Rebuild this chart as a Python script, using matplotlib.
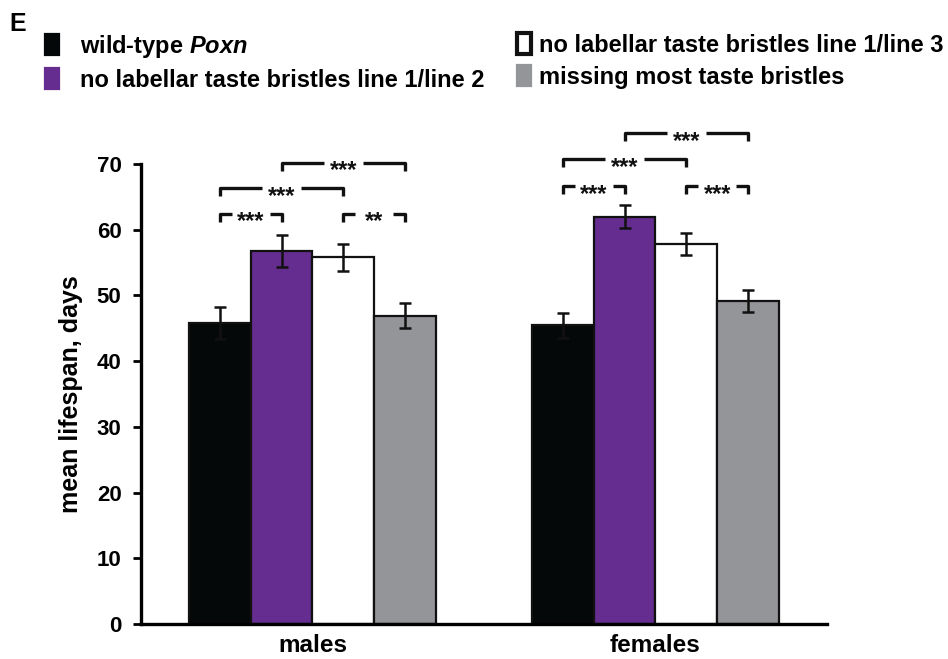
import matplotlib
matplotlib.use('Agg')
import matplotlib.pyplot as plt
import numpy as np

plt.rcParams['font.family'] = ['Liberation Sans', 'DejaVu Sans']
plt.rcParams['font.weight'] = 'bold'
plt.rcParams['mathtext.fontset'] = 'custom'
plt.rcParams['mathtext.it'] = 'Liberation Sans:italic:bold'
plt.rcParams['mathtext.rm'] = 'Liberation Sans:bold'

# data
groups = ['males', 'females']
wild_type = [45.8, 45.5]
line_1_2 = [56.8, 62.0]
line_1_3 = [55.8, 57.8]
missing = [46.9, 49.2]
wild_type_err = [2.4, 1.9]
line_1_2_err = [2.4, 1.8]
line_1_3_err = [2.1, 1.7]
missing_err = [1.9, 1.65]

labels = [r'wild-type $\it{Poxn}$',
          'no labellar taste bristles line 1/line 2',
          'no labellar taste bristles line 1/line 3',
          'missing most taste bristles']
colors = ['#050808', '#652d8f', '#ffffff', '#939598']

# significance brackets: (group, bar a, bar b, height, stars)
brackets = [
    (0, 0, 1, 62.4, '***'), (0, 2, 3, 62.4, '**'),
    (0, 0, 2, 66.3, '***'), (0, 1, 3, 70.2, '***'),
    (1, 0, 1, 66.6, '***'), (1, 2, 3, 66.6, '***'),
    (1, 0, 2, 70.7, '***'), (1, 1, 3, 74.7, '***'),
]

fig = plt.figure(figsize=(9.48, 6.59), dpi=100)
ax = fig.add_axes([0.1487, 0.0531, 0.7236, 0.698])

x = np.arange(len(groups))
w = 0.18
series = [wild_type, line_1_2, line_1_3, missing]
errs = [wild_type_err, line_1_2_err, line_1_3_err, missing_err]
offsets = (np.arange(4) - 1.5) * w

handles = []
for k in range(4):
    b = ax.bar(x + offsets[k], series[k], w, color=colors[k], edgecolor='#111111',
               linewidth=1.6, label=labels[k], zorder=2)
    ax.errorbar(x + offsets[k], series[k], yerr=errs[k], fmt='none', ecolor='#111111',
                elinewidth=1.8, capsize=4, capthick=1.8, zorder=3)
    handles.append(b)

# brackets
gap = 0.056
tick = 1.2
for g, a, b, y, s in brackets:
    xa = x[g] + offsets[a]
    xb = x[g] + offsets[b]
    xm = (xa + xb) / 2
    kw = dict(color='#111111', lw=2.4, clip_on=False, solid_capstyle='butt')
    ax.plot([xa, xa, xm - gap], [y - tick, y, y], **kw)
    ax.plot([xm + gap, xb, xb], [y, y, y - tick], **kw)
    ax.text(xm, y - 2.2, s, ha='center', va='baseline', fontsize=17,
            fontweight='bold', color='#111111', clip_on=False)

ax.set_xlim(-0.5, 1.5)
ax.set_ylim(0, 70)
ax.set_yticks(range(0, 71, 10))
ax.set_xticks(x)
ax.set_xticklabels(groups, fontsize=17.5, fontweight='bold')
ax.tick_params(axis='x', length=0, pad=7)
ax.tick_params(axis='y', length=6, width=2, labelsize=16, pad=8, direction='out')
for t in ax.get_yticklabels():
    t.set_fontweight('bold')
ax.spines['top'].set_visible(False)
ax.spines['right'].set_visible(False)
ax.spines['left'].set_linewidth(2.4)
ax.spines['bottom'].set_linewidth(2.4)
ax.set_ylabel('mean lifespan, days', fontsize=18, fontweight='bold', labelpad=10)

# legend in two columns, built as two legends
leg_kw = dict(loc='upper left', frameon=False, fontsize=17, handlelength=0.6,
              handleheight=1.0, labelspacing=0.35, borderpad=0, borderaxespad=0)
leg1 = fig.legend(handles=handles[:2], labels=labels[:2], bbox_to_anchor=(0.047, 0.95),
                  handletextpad=0.9, **leg_kw)
leg2 = fig.legend(handles=handles[2:], labels=labels[2:], bbox_to_anchor=(0.545, 0.95),
                  handletextpad=0.35, **leg_kw)
for leg, cols in [(leg1, colors[:2]), (leg2, colors[2:])]:
    for h, c in zip(leg.legend_handles, cols):
        if c == '#ffffff':
            h.set_linewidth(3)
            h.set_edgecolor('#111111')
        else:
            h.set_edgecolor(c)

fig.text(0.010, 0.982, 'E', fontsize=18, fontweight='bold', va='top', ha='left')

fig.savefig('out.png', dpi=100)
